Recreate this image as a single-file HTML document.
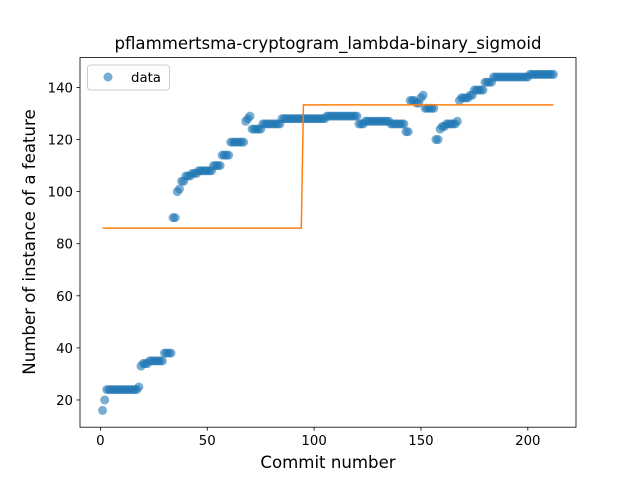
<!DOCTYPE html>
<html><head><meta charset="utf-8"><style>
html,body{margin:0;padding:0;background:#fff;}
svg{display:block;font-family:"DejaVu Sans","Liberation Sans",sans-serif;}
</style></head><body>
<svg id="chart" width="640" height="480" viewBox="0 0 640 480"></svg>
<script>
const values=[16,20,
24,24,24,24,24,24,24,24,24,24,24,24,24,24,24,
25,33,34,34,34,35,35,35,35,35,35,35,38,38,38,38,
90,90,100,101,104,104,106,106,106,107,107,107,
108,108,108,108,108,108,108,110,110,110,110,114,114,114,114,
119,119,119,119,119,119,119,127,128,129,124,124,124,124,124,
126,126,126,126,126,126,126,126,126,
128,128,128,128,128,128,128,128,128,128,128,128,128,128,128,128,128,128,128,128,128,
129,129,129,129,129,129,129,129,129,129,129,129,129,129,129,
126,126,126,127,127,127,127,127,127,127,127,127,127,127,127,
126,126,126,126,126,126,126,123,123,135,135,135,134,134,136,137,
132,132,132,132,132,120,120,124,125,125,126,126,126,126,126,127,
135,136,136,136,136,137,137,139,139,139,139,139,142,142,142,142,
144,144,144,144,144,144,144,144,144,144,144,144,144,144,144,144,144,
145,145,145,145,145,145,145,145,145,145,145,145];
const stepX=[1,94,95,212];
const stepY=[86,86,133.3,133.3];
const xTicks=[0,50,100,150,200];
const yTicks=[20,40,60,80,100,120,140];

const L=80,R=576,T=57.6,B=427.2;
const xMin=-9.55,xMax=222.55,yMin=9.55,yMax=151.45;
const sx=v=>L+(v-xMin)/(xMax-xMin)*(R-L);
const sy=v=>B-(v-yMin)/(yMax-yMin)*(B-T);
const svg=document.getElementById('chart');
const NS='http://www.w3.org/2000/svg';
function mk(tag,attrs,parent){const e=document.createElementNS(NS,tag);for(const k in attrs)e.setAttribute(k,attrs[k]);(parent||svg).appendChild(e);return e;}

const pts=mk('g',{});


values.forEach((v,i)=>{
  const c=mk('circle',{cx:sx(i+1),cy:sy(v),r:4.5,fill:'#1f77b4','fill-opacity':0.6},pts);
  
  
});
const line=mk('polyline',{points:stepX.map((x,i)=>sx(x)+','+sy(stepY[i])).join(' '),fill:'none',stroke:'#ff7f0e','stroke-width':1.5});



const frame=mk('rect',{x:L,y:T,width:R-L,height:B-T,fill:'none',stroke:'#000','stroke-width':0.8});



xTicks.forEach(t=>{
  const x=sx(t);
  const tk=mk('line',{x1:x,x2:x,y1:B,y2:B+3.5,stroke:'#000','stroke-width':0.8});
  
  
  const tx=mk('text',{x:x,y:B+18,'text-anchor':'middle','font-size':13.3,fill:'#000'});
  tx.textContent=t;
  
  
});
yTicks.forEach(t=>{
  const y=sy(t);
  const tk=mk('line',{x1:L-3.5,x2:L,y1:y,y2:y,stroke:'#000','stroke-width':0.8});
  
  
  const tx=mk('text',{x:L-7,y:y+5,'text-anchor':'end','font-size':13.3,fill:'#000'});
  tx.textContent=t;
  
  
});
</script>
<svg width="640" height="480" style="position:absolute;left:0;top:0">
<text x="328" y="49" text-anchor="middle" font-size="16.6" font-family="DejaVu Sans, Liberation Sans, sans-serif">pflammertsma-cryptogram_lambda-binary_sigmoid</text>
<text x="328" y="468" text-anchor="middle" font-size="16.6" font-family="DejaVu Sans, Liberation Sans, sans-serif">Commit number</text>
<text x="35" y="242" text-anchor="middle" font-size="16.6" font-family="DejaVu Sans, Liberation Sans, sans-serif" transform="rotate(-90 35 242)">Number of instance of a feature</text>
<g>
<rect x="87.5" y="65" width="82" height="25" rx="3" fill="#fff" fill-opacity="0.8" stroke="#ccc"/>
<circle cx="108" cy="77" r="4.5" fill="#1f77b4" fill-opacity="0.6"/>
<text x="131" y="82" font-size="13.3" font-family="DejaVu Sans, Liberation Sans, sans-serif">data</text>
</g>
</svg>
</body></html>
